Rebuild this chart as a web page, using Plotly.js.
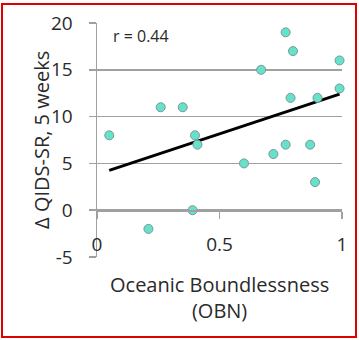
<!DOCTYPE html>
<html>
<head>
<meta charset="utf-8">
<script src="https://cdn.plot.ly/plotly-3.0.1.min.js"></script>
<style>
  html, body { margin: 0; padding: 0; background: #fff; }
  #wrap { position: relative; width: 359px; height: 340px; }
  #chart { width: 359px; height: 340px; }
  #frame { position: absolute; left: 1px; top: 3px; width: 356px; height: 335px;
           box-sizing: border-box; border: 2px solid #e00000; pointer-events: none; }
</style>
</head>
<body>
<div id="wrap">
  <div id="chart"></div>
  <div id="frame"></div>
</div>
<script>
// Oceanic Boundlessness (OBN) score per participant
const obn = [0.05, 0.21, 0.26, 0.35, 0.39, 0.40, 0.41, 0.60, 0.67, 0.72,
             0.77, 0.77, 0.79, 0.80, 0.87, 0.89, 0.90, 0.99, 0.99];
// Change in QIDS-SR at 5 weeks
const dQids = [8, -2, 11, 11, 0, 8, 7, 5, 15, 6,
               7, 19, 12, 17, 7, 3, 12, 13, 16];
const xTickVals = [0, 0.5, 1];
const xTickText = ['0', '0.5', '1'];
const yTickVals = [-5, 0, 5, 10, 15, 20];
const yTickText = ['-5', '0', '5', '10', '15', '20'];
const rLabel = 'r = 0.44';

// least-squares trend line from the data
const n = obn.length;
const mx = obn.reduce((a, b) => a + b, 0) / n;
const my = dQids.reduce((a, b) => a + b, 0) / n;
let sxy = 0, sxx = 0;
for (let i = 0; i < n; i++) { sxy += (obn[i] - mx) * (dQids[i] - my); sxx += (obn[i] - mx) ** 2; }
const slope = sxy / sxx, icpt = my - slope * mx;
const xMin = Math.min(...obn), xMax = Math.max(...obn);
const trendX = [xMin, xMax];
const trendY = trendX.map(v => icpt + slope * v);

const textColor = '#2a2a2a';
const gridColor = '#a0a0a0';
const fontFam = '"Open Sans", "DejaVu Sans", sans-serif';

const traces = [
  {
    x: trendX, y: trendY, type: 'scatter', mode: 'lines',
    line: { color: '#000000', width: 3 }, hoverinfo: 'skip', cliponaxis: false
  },
  {
    x: obn, y: dQids, type: 'scatter', mode: 'markers', cliponaxis: false,
    marker: { size: 9, color: 'rgb(100,226,204)', line: { color: 'rgb(125,150,148)', width: 1 } }
  }
];

const layout = {
  width: 359, height: 340,
  margin: { l: 97, r: 17, t: 23, b: 83 },
  paper_bgcolor: '#ffffff', plot_bgcolor: '#ffffff',
  showlegend: false,
  font: { family: fontFam, color: textColor },
  xaxis: {
    range: [0, 1], tickvals: xTickVals, ticktext: xTickText,
    anchor: 'free', position: 0.2,
    showline: true, linecolor: gridColor, linewidth: 1.5,
    ticks: 'outside', ticklen: 7, tickcolor: gridColor, tickwidth: 1.5,
    showgrid: false, zeroline: false,
    tickfont: { size: 19, color: textColor }, ticklabelstandoff: 9
  },
  yaxis: {
    range: [-5, 20], tickvals: yTickVals, ticktext: yTickText,
    showline: true, linecolor: gridColor, linewidth: 1.5,
    ticks: 'outside', ticklen: 7, tickcolor: gridColor, tickwidth: 1.5,
    showgrid: true, gridcolor: gridColor, gridwidth: 1.5, zeroline: false,
    tickfont: { size: 19, color: textColor }, ticklabelstandoff: 12
  },
  annotations: [
    { text: rLabel, xref: 'paper', yref: 'paper', x: 0.18, y: 0.945,
      xanchor: 'center', yanchor: 'middle', showarrow: false,
      font: { size: 16, color: textColor } },
    { text: 'Oceanic Boundlessness<br>(OBN)', xref: 'paper', yref: 'paper',
      x: 0.5, y: -0.171, xanchor: 'center', yanchor: 'middle', showarrow: false,
      font: { size: 20, color: textColor } },
    { text: 'Δ QIDS-SR, 5 weeks', xref: 'paper', yref: 'paper',
      x: -0.229, y: 0.5, xanchor: 'center', yanchor: 'middle', textangle: -90,
      showarrow: false, font: { size: 20, color: textColor } }
  ]
};

Plotly.newPlot('chart', traces, layout, { displayModeBar: false, staticPlot: true });
</script>
</body>
</html>
